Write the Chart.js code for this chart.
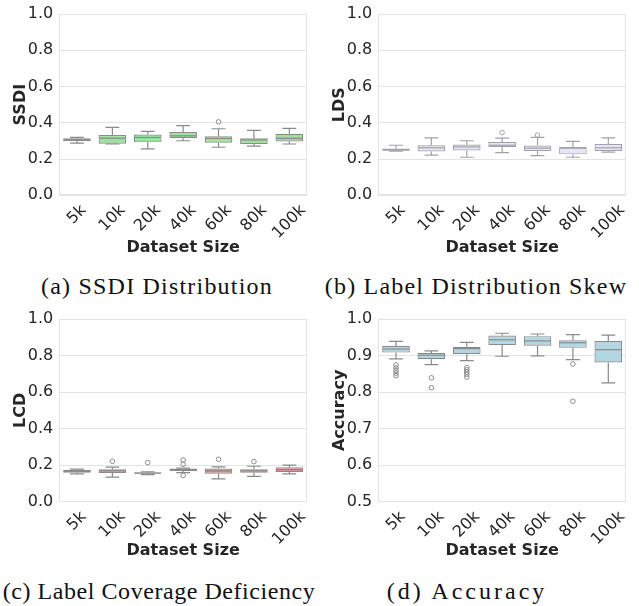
<!DOCTYPE html>
<html>
<head>
<meta charset="utf-8">
<script src="https://cdn.jsdelivr.net/npm/chart.js@4.4.0/dist/chart.umd.min.js"></script>
<style>
  html, body { margin: 0; padding: 0; background: #ffffff; }
  #wrap { position: relative; width: 639px; height: 606px; overflow: hidden; background: #fff; }
  .panel { position: absolute; width: 320px; height: 262px; }
  .cap { position: absolute; width: 400px; text-align: center; font-family: "Liberation Serif", serif;
         font-size: 24px; line-height: 24px; letter-spacing: 1.2px; color: #111; white-space: nowrap; }
</style>
</head>
<body>
<div id="wrap">
  <div class="panel" style="left:0px;top:0px;"><canvas id="cA" width="320" height="262"></canvas></div>
  <div class="panel" style="left:319px;top:0px;"><canvas id="cB" width="320" height="262"></canvas></div>
  <div class="panel" style="left:0px;top:305px;"><canvas id="cC" width="320" height="262"></canvas></div>
  <div class="panel" style="left:319px;top:305px;"><canvas id="cD" width="320" height="262"></canvas></div>
  <div class="cap" style="left:-43px;top:274px;">(a) SSDI Distribution</div>
  <div class="cap" style="left:276px;top:274px;">(b) Label Distribution Skew</div>
  <div class="cap" style="left:-41px;top:579px;letter-spacing:0.55px;">(c) Label Coverage Deficiency</div>
  <div class="cap" style="left:267px;top:579px;letter-spacing:3.0px;">(d) Accuracy</div>
</div>
<script>
// ---------------- DATA ----------------
const categories = ['5k', '10k', '20k', '40k', '60k', '80k', '100k'];

const ssdiLow  = [0.288, 0.283, 0.256, 0.301, 0.265, 0.271, 0.283];
const ssdiQ1   = [0.300, 0.285, 0.292, 0.315, 0.290, 0.283, 0.297];
const ssdiMed  = [0.306, 0.315, 0.319, 0.328, 0.314, 0.305, 0.314];
const ssdiQ3   = [0.314, 0.333, 0.335, 0.349, 0.326, 0.315, 0.339];
const ssdiHigh = [0.320, 0.375, 0.353, 0.384, 0.367, 0.358, 0.369];
const ssdiOutliers = [[], [], [], [], [0.405], [], []];

const ldsLow  = [0.244, 0.222, 0.210, 0.235, 0.219, 0.210, 0.238];
const ldsQ1   = [0.246, 0.242, 0.247, 0.267, 0.244, 0.226, 0.244];
const ldsMed  = [0.250, 0.262, 0.267, 0.276, 0.260, 0.260, 0.262];
const ldsQ3   = [0.258, 0.276, 0.280, 0.294, 0.274, 0.267, 0.283];
const ldsHigh = [0.276, 0.317, 0.301, 0.315, 0.319, 0.297, 0.317];
const ldsOutliers = [[], [], [], [0.346], [0.332], [], []];

const lcdLow  = [0.152, 0.134, 0.148, 0.159, 0.125, 0.139, 0.152];
const lcdQ1   = [0.159, 0.157, 0.153, 0.168, 0.153, 0.159, 0.162];
const lcdMed  = [0.166, 0.169, 0.157, 0.175, 0.169, 0.169, 0.176];
const lcdQ3   = [0.175, 0.178, 0.160, 0.182, 0.182, 0.178, 0.189];
const lcdHigh = [0.178, 0.189, 0.164, 0.184, 0.191, 0.194, 0.200];
const lcdOutliers = [[], [0.221], [0.214], [0.228, 0.205, 0.144], [0.232], [0.219], []];

const accLow  = [0.891, 0.875, 0.886, 0.898, 0.899, 0.889, 0.825];
const accQ1   = [0.908, 0.890, 0.904, 0.929, 0.927, 0.921, 0.881];
const accMed  = [0.918, 0.901, 0.919, 0.943, 0.940, 0.935, 0.916];
const accQ3   = [0.926, 0.907, 0.924, 0.955, 0.953, 0.942, 0.940];
const accHigh = [0.939, 0.913, 0.936, 0.961, 0.959, 0.957, 0.956];
const accOutliers = [[0.874, 0.866, 0.859, 0.852, 0.845], [0.839, 0.812],
                     [0.867, 0.861, 0.855, 0.849, 0.841], [], [], [0.877, 0.775], []];

const ssdiTicks = [0.0, 0.2, 0.4, 0.6, 0.8, 1.0];
const accTicks  = [0.5, 0.6, 0.7, 0.8, 0.9, 1.0];

// ---------------- STYLE ----------------
Chart.defaults.font.family = "'DejaVu Sans', sans-serif";
Chart.defaults.color = '#262626';
const TEXT = '#262626';
const GRID = '#e3e3e3';

const boxPlugin = {
  id: 'boxParts',
  afterDatasetsDraw(chart) {
    const st = chart.$box; if (!st) return;
    const y = chart.scales.y;
    const meta = chart.getDatasetMeta(0);
    const ctx = chart.ctx;
    ctx.save();
    ctx.strokeStyle = st.line;
    ctx.lineWidth = 1.2;
    meta.data.forEach((bar, i) => {
      const x = bar.x, w = bar.width;
      const yl = y.getPixelForValue(st.low[i]);
      const yq1 = y.getPixelForValue(st.q1[i]);
      const ym = y.getPixelForValue(st.med[i]);
      const yq3 = y.getPixelForValue(st.q3[i]);
      const yh = y.getPixelForValue(st.high[i]);
      ctx.beginPath();
      ctx.moveTo(x, yq3); ctx.lineTo(x, yh);
      ctx.moveTo(x - w / 4, yh); ctx.lineTo(x + w / 4, yh);
      ctx.moveTo(x, yq1); ctx.lineTo(x, yl);
      ctx.moveTo(x - w / 4, yl); ctx.lineTo(x + w / 4, yl);
      ctx.stroke();
      ctx.beginPath();
      ctx.moveTo(x - w / 2 + 0.6, ym); ctx.lineTo(x + w / 2 - 0.6, ym);
      ctx.stroke();
    });
    ctx.restore();
  }
};

const framePlugin = {
  id: 'frame',
  beforeDatasetsDraw(chart) {
    const a = chart.chartArea, ctx = chart.ctx;
    ctx.save();
    ctx.strokeStyle = GRID;
    ctx.lineWidth = 1;
    ctx.strokeRect(Math.round(a.left) + 0.5, Math.round(a.top) + 0.5,
                   Math.round(a.right - a.left) - 1, Math.round(a.bottom - a.top) - 1);
    ctx.restore();
  }
};

const xLabelPlugin = {
  id: 'xlabels',
  afterDraw(chart) {
    const xs = chart.scales.x, a = chart.chartArea, ctx = chart.ctx;
    ctx.save();
    ctx.font = "16px 'DejaVu Sans'";
    ctx.fillStyle = TEXT;
    ctx.textAlign = 'center';
    ctx.textBaseline = 'middle';
    xs.ticks.forEach((t, i) => {
      const lbl = chart.data.labels[i];
      const px = xs.getPixelForTick(i);
      const w = ctx.measureText(lbl).width;
      const cy = a.bottom + 12.5 + w * 0.3536;
      ctx.save();
      ctx.translate(px, cy);
      ctx.rotate(-Math.PI / 4);
      ctx.fillText(lbl, 0, 0);
      ctx.restore();
    });
    ctx.restore();
  }
};

function makePanel(id, o) {
  const boxes = categories.map((c, i) => [o.q1[i], o.q3[i]]);
  const outPts = [];
  o.out.forEach((arr, i) => arr.forEach(v => outPts.push({ x: categories[i], y: v })));
  const yTicks = o.ticks;
  const chart = new Chart(document.getElementById(id), {
    type: 'bar',
    data: {
      labels: categories,
      datasets: [
        {
          type: 'bar',
          data: boxes,
          backgroundColor: o.fill,
          borderColor: o.line,
          borderWidth: 1.2,
          borderSkipped: false,
          barPercentage: 0.78,
          categoryPercentage: 1.0
        },
        {
          type: 'scatter',
          data: outPts,
          pointStyle: 'circle',
          pointRadius: 2.3,
          pointBackgroundColor: 'rgba(255,255,255,0)',
          pointBorderColor: o.line,
          pointBorderWidth: 1,
          showLine: false
        }
      ]
    },
    options: {
      responsive: false,
      animation: false,
      events: [],
      layout: { padding: { left: 0, right: 13, top: o.padTop, bottom: 0 } },
      plugins: { legend: { display: false }, tooltip: { enabled: false } },
      scales: {
        x: {
          type: 'category',
          offset: true,
          grid: { display: false, drawTicks: false },
          border: { display: false },
          ticks: { display: false },
          title: { display: true, text: 'Dataset Size', color: TEXT,
                   font: { size: 16, weight: 'bold', lineHeight: 1.2 },
                   padding: { top: 0, bottom: o.titlePad } },
          afterFit: (s) => { s.height = o.xHeight; }
        },
        y: {
          min: yTicks[0], max: yTicks[yTicks.length - 1],
          afterBuildTicks: (s) => { s.ticks = yTicks.map(v => ({ value: v })); },
          grid: { color: GRID, lineWidth: 1, drawTicks: false },
          border: { display: false },
          ticks: { padding: 6, color: TEXT, font: { size: 16, lineHeight: 1.0 },
                   callback: (v) => Number(v).toFixed(1) },
          title: { display: true, text: o.ylabel, color: TEXT,
                   font: { size: 16, weight: 'bold', lineHeight: 1.2 },
                   padding: { top: 11.5, bottom: 0 } },
          afterFit: (s) => { s.width = 59.3; }
        }
      }
    },
    plugins: [framePlugin, boxPlugin, xLabelPlugin]
  });
  chart.$box = { low: o.low, q1: o.q1, med: o.med, q3: o.q3, high: o.high, line: o.line };
  chart.draw();
  return chart;
}

makePanel('cA', { low: ssdiLow, q1: ssdiQ1, med: ssdiMed, q3: ssdiQ3, high: ssdiHigh, out: ssdiOutliers,
  fill: '#9be29b', line: '#8a8a8a', ylabel: 'SSDI', ticks: ssdiTicks,
  padTop: 9.3, xHeight: 66.7, titlePad: 4.4 });
makePanel('cB', { low: ldsLow, q1: ldsQ1, med: ldsMed, q3: ldsQ3, high: ldsHigh, out: ldsOutliers,
  fill: '#e6e6f8', line: '#a2a2a8', ylabel: 'LDS', ticks: ssdiTicks,
  padTop: 9.3, xHeight: 66.7, titlePad: 4.4 });
makePanel('cC', { low: lcdLow, q1: lcdQ1, med: lcdMed, q3: lcdQ3, high: lcdHigh, out: lcdOutliers,
  fill: '#e28e8e', line: '#8a8a8a', ylabel: 'LCD', ticks: ssdiTicks,
  padTop: 9.7, xHeight: 65.3, titlePad: 6.4 });
makePanel('cD', { low: accLow, q1: accQ1, med: accMed, q3: accQ3, high: accHigh, out: accOutliers,
  fill: '#b2d6e2', line: '#8a8a8a', ylabel: 'Accuracy', ticks: accTicks,
  padTop: 9.7, xHeight: 65.3, titlePad: 6.4 });
</script>
</body>
</html>
